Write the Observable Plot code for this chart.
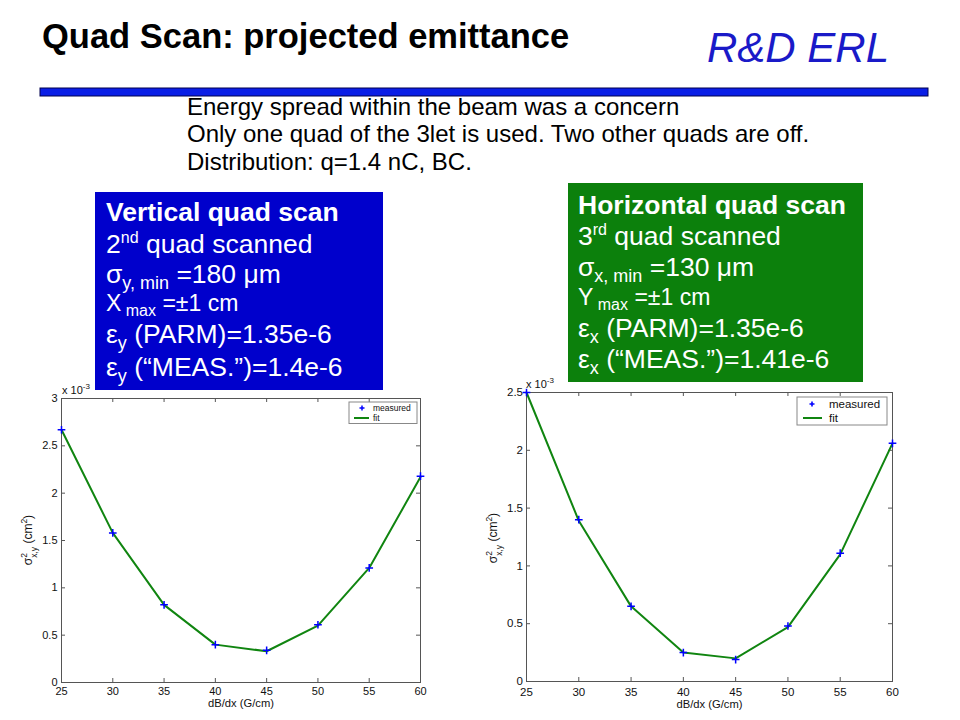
<!DOCTYPE html>
<html>
<head>
<meta charset="utf-8">
<script src="https://cdn.jsdelivr.net/npm/d3@7"></script>
<script src="https://cdn.jsdelivr.net/npm/@observablehq/plot@0.6"></script>
<style>
  html, body { margin: 0; padding: 0; background: #fff; }
  #page { position: relative; width: 960px; height: 720px; overflow: hidden; font-family: "Liberation Sans", Arial, sans-serif; }
  .chart { position: absolute; }
  .chart svg { display: block; }
  #overlay { position: absolute; left: 0; top: 0; pointer-events: none; }
</style>
</head>
<body>
<div id="page">
  <div id="left" class="chart" style="left:0px; top:380px; width:440px; height:340px;"></div>
  <div id="right" class="chart" style="left:480px; top:370px; width:480px; height:350px;"></div>
  <svg id="overlay" width="960" height="720" font-family="Liberation Sans, Arial, sans-serif">
    <!-- Slide header -->
    <text x="42" y="48" font-size="34.5" font-weight="bold" fill="#000">Quad Scan: projected emittance</text>
    <text x="707" y="62" font-size="42" font-style="italic" fill="#1a1ac8">R&amp;D ERL</text>
    <rect x="40" y="88" width="888" height="8" fill="#0a1ee6" stroke="#000050" stroke-width="1"/>
    <text x="187" y="115" font-size="24" fill="#000">Energy spread within the beam was a concern</text>
    <text x="187" y="142" font-size="24" fill="#000">Only one quad of the 3let is used. Two other quads are off.</text>
    <text x="187" y="170" font-size="24" fill="#000">Distribution: q=1.4 nC, BC.</text>

    <!-- Vertical box -->
    <rect x="95" y="192" width="288" height="198" fill="#0000cc"/>
    <g fill="#fff">
      <text x="106" y="221" font-size="26.5" font-weight="bold">Vertical quad scan</text>
      <text x="106" y="253" font-size="26.5">2<tspan font-size="16" dy="-10">nd</tspan><tspan dy="10"> quad scanned</tspan></text>
      <text x="106" y="283" font-size="26.5">σ<tspan font-size="18" dy="6">y, min</tspan><tspan dy="-6"> =180 μm</tspan></text>
      <text x="106" y="311" font-size="23">X<tspan font-size="16" dy="5"> max</tspan><tspan dy="-5"> =±1 cm</tspan></text>
      <text x="106" y="343" font-size="26.5">ε<tspan font-size="18" dy="6">y</tspan><tspan dy="-6"> (PARM)=1.35e-6</tspan></text>
      <text x="106" y="376" font-size="26.5">ε<tspan font-size="18" dy="6">y</tspan><tspan dy="-6"> (“MEAS.”)=1.4e-6</tspan></text>
    </g>

    <!-- Horizontal box -->
    <rect x="568" y="183" width="295" height="199" fill="#0c800c"/>
    <g fill="#fff">
      <text x="578" y="214" font-size="26.5" font-weight="bold">Horizontal quad scan</text>
      <text x="578" y="245" font-size="26.5">3<tspan font-size="16" dy="-10">rd</tspan><tspan dy="10"> quad scanned</tspan></text>
      <text x="578" y="276" font-size="26.5">σ<tspan font-size="18" dy="6">x, min</tspan><tspan dy="-6"> =130 μm</tspan></text>
      <text x="578" y="305" font-size="23">Y<tspan font-size="16" dy="5"> max</tspan><tspan dy="-5"> =±1 cm</tspan></text>
      <text x="578" y="337" font-size="26.5">ε<tspan font-size="18" dy="6">x</tspan><tspan dy="-6"> (PARM)=1.35e-6</tspan></text>
      <text x="578" y="368" font-size="26.5">ε<tspan font-size="18" dy="6">x</tspan><tspan dy="-6"> (“MEAS.”)=1.41e-6</tspan></text>
    </g>

    <!-- Left chart annotations -->
    <text x="62" y="394" font-size="11" fill="#111">x 10<tspan font-size="8" dy="-5">-3</tspan></text>
    <text transform="translate(32,540) rotate(-90)" text-anchor="middle" font-size="12" fill="#111">σ<tspan font-size="8.5" dy="-5">2</tspan><tspan font-size="8.5" dx="-4.8" dy="9.5">x,y</tspan><tspan dy="-4.5"> (cm</tspan><tspan font-size="8.5" dy="-5">2</tspan><tspan dy="5">)</tspan></text>
    <g id="legendL">
      <rect x="349" y="402" width="68" height="21.5" fill="#fff" stroke="#888" stroke-width="1"/>
      <path d="M362,405.5v5M359.5,408h5" stroke="#0000ff" stroke-width="1.5"/>
      <line x1="354" x2="369" y1="418" y2="418" stroke="#108510" stroke-width="2"/>
      <text x="373" y="411" font-size="8.5" fill="#111">measured</text>
      <text x="373" y="421" font-size="8.5" fill="#111">fit</text>
    </g>

    <!-- Right chart annotations -->
    <text x="526" y="388" font-size="11" fill="#111">x 10<tspan font-size="8" dy="-5">-3</tspan></text>
    <text transform="translate(497,538) rotate(-90)" text-anchor="middle" font-size="12" fill="#111">σ<tspan font-size="8.5" dy="-5">2</tspan><tspan font-size="8.5" dx="-4.8" dy="9.5">x,y</tspan><tspan dy="-4.5"> (cm</tspan><tspan font-size="8.5" dy="-5">2</tspan><tspan dy="5">)</tspan></text>
    <g id="legendR">
      <rect x="797" y="397" width="90" height="28" fill="#fff" stroke="#888" stroke-width="1"/>
      <path d="M812,401.5v5M809.5,404h5" stroke="#0000ff" stroke-width="1.6"/>
      <line x1="803" x2="822" y1="418" y2="418" stroke="#108510" stroke-width="2"/>
      <text x="829" y="408" font-size="11.5" fill="#111">measured</text>
      <text x="829" y="422" font-size="11.5" fill="#111">fit</text>
    </g>
  </svg>
</div>
<script>
// ---- Data (values in units of 1e-3 cm^2) ----
const dBdx = [25, 30, 35, 40, 45, 50, 55, 60];
const vertMeasured = [2.67, 1.58, 0.82, 0.40, 0.34, 0.61, 1.21, 2.18];
const vertFit      = [2.67, 1.58, 0.82, 0.40, 0.33, 0.60, 1.21, 2.17];
const horzMeasured = [2.50, 1.40, 0.65, 0.25, 0.19, 0.48, 1.11, 2.06];
const horzFit      = [2.50, 1.39, 0.65, 0.25, 0.20, 0.47, 1.10, 2.06];
const xTicks = [25, 30, 35, 40, 45, 50, 55, 60];
const vertYTicks = [0, 0.5, 1, 1.5, 2, 2.5, 3];
const horzYTicks = [0, 0.5, 1, 1.5, 2, 2.5];
const xLabel = "dB/dx (G/cm)";

const FRAME = "#555";
const GREEN = "#108510";
const BLUE = "#0000ff";

function makeChart({width, height, mt, mr, mb, ml, yDomain, yTicks, measured, fit, font, xLabelDy, padX, padY}) {
  const plotW = width - ml - mr;
  const plotH = height - mt - mb;
  const meas = dBdx.map((x, i) => ({x, y: measured[i]}));
  const fitd = dBdx.map((x, i) => ({x, y: fit[i]}));
  return Plot.plot({
    width, height,
    marginTop: mt, marginRight: mr, marginBottom: mb, marginLeft: ml,
    x: {domain: [25, 60]},
    y: {domain: yDomain},
    style: {fontFamily: "Liberation Sans, Arial, sans-serif", fontSize: font + "px", background: "transparent", color: "#111", overflow: "visible"},
    marks: [
      Plot.frame({stroke: FRAME, strokeWidth: 1}),
      Plot.tickX(xTicks, {x: d => d, stroke: FRAME, insetTop: plotH - 4}),
      Plot.tickX(xTicks, {x: d => d, stroke: FRAME, insetBottom: plotH - 4}),
      Plot.tickY(yTicks, {y: d => d, stroke: FRAME, insetRight: plotW - 4}),
      Plot.tickY(yTicks, {y: d => d, stroke: FRAME, insetLeft: plotW - 4}),
      Plot.axisX({ticks: xTicks, tickSize: 0, tickPadding: padX, label: null, fontSize: font, tickFormat: d => String(d)}),
      Plot.axisY({ticks: yTicks, tickSize: 0, tickPadding: padY, label: null, fontSize: font, tickFormat: d => String(d)}),
      Plot.text([xLabel], {text: d => d, frameAnchor: "bottom", lineAnchor: "bottom", dy: xLabelDy, fontSize: 11.2, fill: "#111"}),
      Plot.line(fitd, {x: "x", y: "y", stroke: GREEN, strokeWidth: 2}),
      Plot.dot(meas, {x: "x", y: "y", symbol: "plus", stroke: BLUE, strokeWidth: 1.5, r: 2.6})
    ]
  });
}

document.getElementById("left").append(makeChart({
  width: 440, height: 340, mt: 18, mr: 20, mb: 38, ml: 61,
  yDomain: [0, 3], yTicks: vertYTicks, measured: vertMeasured, fit: vertFit,
  font: 11, xLabelDy: 24, padX: 4.5, padY: 4
}));
document.getElementById("right").append(makeChart({
  width: 480, height: 350, mt: 22, mr: 68, mb: 39, ml: 46,
  yDomain: [0, 2.5], yTicks: horzYTicks, measured: horzMeasured, fit: horzFit,
  font: 11.5, xLabelDy: 26, padX: 6, padY: 3.5
}));
</script>
</body>
</html>
